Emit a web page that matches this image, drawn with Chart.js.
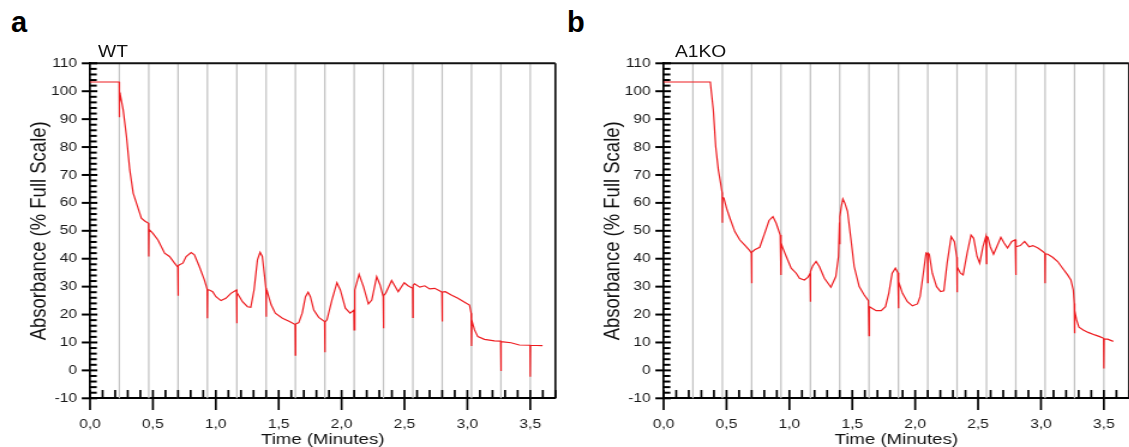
<!DOCTYPE html>
<html>
<head>
<meta charset="utf-8">
<script src="https://cdn.jsdelivr.net/npm/chart.js@4.4.1/dist/chart.umd.min.js"></script>
<style>
  html, body { margin: 0; padding: 0; background: #fff; overflow: hidden; width: 1129px; height: 447px; }
  #wrap { position: absolute; left: 0; top: 0; width: 950px; height: 447px; transform: scaleX(1.2); transform-origin: 0 0; }
  .box { position: absolute; top: 0; width: 470px; height: 447px; }
  .panel { position: absolute; top: 8px; font: bold 29px "Liberation Sans", Arial, sans-serif; line-height: 29px; color: #000; }
  .title { position: absolute; top: 43.8px; font: 16px "Liberation Sans", Arial, sans-serif; line-height: 16px; color: #111; }
</style>
</head>
<body>
<div class="panel" style="left:11px">a</div>
<div class="panel" style="left:567px">b</div>
<div id="wrap">
  <div class="box" style="left:0"><canvas id="wtChart" width="470" height="447" style="width:470px;height:447px"></canvas></div>
  <div class="box" style="left:477.75px"><canvas id="koChart" width="470" height="447" style="width:470px;height:447px"></canvas></div>
  <div class="title" style="left:81.7px">WT</div>
  <div class="title" style="left:562.5px">A1KO</div>
</div>
<script>
"use strict";
// injection markers, one every 14 s
const injectionTimes = [0.233, 0.467, 0.7, 0.933, 1.167, 1.4, 1.633, 1.867, 2.1, 2.333, 2.567, 2.8, 3.033, 3.267, 3.5];
const xTickValues = [0, 0.5, 1, 1.5, 2, 2.5, 3, 3.5];

const wtTime = [0, 0.232, 0.2335, 0.234, 0.242, 0.2635, 0.29, 0.316, 0.343, 0.369, 0.395, 0.408, 0.435, 0.465,
  0.467, 0.469, 0.5, 0.54, 0.593, 0.632, 0.672, 0.698, 0.7, 0.702, 0.711, 0.738, 0.764, 0.804, 0.83, 0.869,
  0.909, 0.931, 0.933, 0.935, 0.949, 0.975, 1.001, 1.041, 1.08, 1.12, 1.165, 1.167, 1.169, 1.18, 1.212, 1.252,
  1.278, 1.304, 1.331, 1.352, 1.37, 1.391, 1.398, 1.4, 1.402, 1.409, 1.42, 1.44, 1.473, 1.53, 1.586, 1.631,
  1.633, 1.635, 1.66, 1.687, 1.713, 1.734, 1.752, 1.779, 1.818, 1.865, 1.867, 1.869, 1.884, 1.923, 1.963, 1.99,
  2.03, 2.068, 2.098, 2.1, 2.102, 2.108, 2.139, 2.174, 2.213, 2.24, 2.279, 2.306, 2.331, 2.333, 2.335, 2.35,
  2.398, 2.45, 2.498, 2.528, 2.565, 2.567, 2.569, 2.58, 2.622, 2.661, 2.7, 2.74, 2.779, 2.798, 2.8, 2.802,
  2.825, 2.872, 2.925, 2.978, 3.017, 3.03, 3.033, 3.036, 3.057, 3.083, 3.136, 3.215, 3.265, 3.267, 3.269,
  3.347, 3.413, 3.498, 3.5, 3.502, 3.598];
const wtAbs = [103.3, 103.3, 90.7, 96, 98.4, 93.3, 83.8, 71.8, 63.5, 59.9, 56.3, 54.5, 53.5, 52.7,
  40.8, 50.5, 49.1, 46.7, 42.0, 40.8, 38.4, 37.0, 26.7, 37.5, 37.8, 38.4, 40.8, 42.2, 41.4, 37.2,
  32.4, 29.1, 18.7, 28.9, 28.8, 28.2, 26.4, 25.0, 25.8, 27.6, 28.8, 16.9, 27.8, 27.0, 24.6, 22.8,
  22.6, 28.8, 39.6, 42.3, 40.8, 32.4, 29.5, 19.2, 27.5, 28.3, 26.5, 23.5, 20.5, 18.7, 17.5, 16.4,
  5.5, 16.6, 17.1, 20.5, 26.4, 28.0, 26.4, 21.6, 19.0, 17.5, 6.5, 17.3, 18.1, 25.2, 31.4, 28.8,
  22.3, 20.5, 21.6, 14.5, 24, 28.8, 34.4, 30.0, 23.8, 25.2, 33.6, 30.6, 26.4, 15.1, 26.8, 27.6,
  32.2, 28.2, 31.4, 30.3, 29.4, 19.0, 30.5, 31.0, 29.8, 30.3, 29.2, 29.4, 28.5, 28.0, 17.5, 28.1,
  28.2, 27.0, 25.8, 24.4, 23.4, 20.5, 8.7, 17.8, 14.5, 12.1, 11.1, 10.6, 10.5, -0.2, 10.3,
  9.9, 9.1, 9.0, -2.3, 9.0, 8.9];

const koTime = [0, 0.371, 0.395, 0.414, 0.435, 0.453, 0.465, 0.467, 0.469, 0.479, 0.5, 0.527, 0.566, 0.606,
  0.645, 0.685, 0.698, 0.7, 0.702, 0.724, 0.764, 0.803, 0.838, 0.869, 0.895, 0.927, 0.933, 0.935, 0.948,
  0.975, 1.014, 1.054, 1.08, 1.119, 1.146, 1.165, 1.167, 1.169, 1.185, 1.212, 1.238, 1.278, 1.33, 1.369,
  1.39, 1.398, 1.4, 1.402, 1.412, 1.425, 1.44, 1.462, 1.49, 1.515, 1.555, 1.595, 1.628, 1.633, 1.636, 1.66,
  1.69, 1.73, 1.764, 1.79, 1.817, 1.843, 1.862, 1.867, 1.869, 1.899, 1.938, 1.978, 2.018, 2.039, 2.065,
  2.086, 2.098, 2.1, 2.102, 2.112, 2.136, 2.17, 2.202, 2.228, 2.254, 2.286, 2.312, 2.331, 2.333, 2.335,
  2.36, 2.381, 2.413, 2.444, 2.465, 2.492, 2.513, 2.539, 2.562, 2.567, 2.569, 2.578, 2.597, 2.623, 2.649,
  2.681, 2.707, 2.734, 2.768, 2.796, 2.8, 2.802, 2.836, 2.87, 2.905, 2.936, 2.976, 3.015, 3.031, 3.033,
  3.035, 3.054, 3.093, 3.133, 3.172, 3.212, 3.238, 3.257, 3.265, 3.267, 3.269, 3.283, 3.302, 3.336, 3.375,
  3.428, 3.467, 3.498, 3.5, 3.502, 3.53, 3.575];
const koAbs = [103.3, 103.3, 93.3, 80.2, 71.8, 67.1, 63.7, 52.9, 62.0, 61.7, 58.1, 54.5, 49.7, 46.7,
  44.9, 42.9, 42.0, 31.2, 42.3, 43.2, 44.1, 49.1, 53.7, 55.1, 52.7, 48.5, 34.2, 45.5, 43.8,
  40.8, 36.6, 34.8, 33.0, 32.4, 33.3, 34.8, 24.6, 35.5, 37.4, 39.0, 37.2, 33.0, 29.8, 33.6,
  40.8, 53, 45.2, 55, 58.5, 61.4, 60.0, 57.0, 46.7, 37.2, 30.0, 27.0, 25.0, 12.4, 22.8, 22.2,
  21.4, 21.4, 22.8, 27.6, 34.8, 36.6, 35.0, 22.3, 31.8, 27.6, 24.6, 23.1, 23.8, 26.4, 34.8,
  42.0, 41.5, 31.4, 42.0, 41.6, 34.8, 30.0, 28.2, 28.5, 38.4, 47.9, 46.1, 40.5, 28.0, 37,
  34.8, 34.2, 42.0, 48.5, 47.3, 40.8, 38.4, 44.3, 47.9, 38.2, 48.0, 47.7, 44.3, 41.6, 44.3,
  47.7, 45.6, 43.8, 46.2, 46.8, 34.2, 44.3, 44.7, 46.2, 44.3, 44.7, 43.8, 42.6, 42.0, 31.2,
  41.8, 41.6, 40.5, 39.0, 36.6, 34.2, 32.4, 28.8, 24.0, 13.3, 21.4, 18.1, 15.5, 14.5, 13.6,
  12.7, 12.1, 11.5, 0.7, 11.2, 11.2, 10.4];

const FONT = '"Liberation Sans", Arial, sans-serif';
Chart.defaults.font.family = FONT;

// gray injection lines, top/right frame, inner and minor ticks
const framePlugin = {
  id: "frame",
  beforeDatasetsDraw(chart) {
    const ctx = chart.ctx;
    const a = chart.chartArea;
    const x = chart.scales.x;
    ctx.save();
    ctx.strokeStyle = "#c2c2c2";
    ctx.lineWidth = 1.25;
    injectionTimes.forEach((t) => {
      const px = x.getPixelForValue(t);
      ctx.beginPath();
      ctx.moveTo(px, a.top);
      ctx.lineTo(px, a.bottom);
      ctx.stroke();
    });
    ctx.restore();
  },
  afterDraw(chart) {
    const ctx = chart.ctx;
    const a = chart.chartArea;
    const x = chart.scales.x;
    const y = chart.scales.y;
    ctx.save();
    ctx.strokeStyle = "#111";
    ctx.lineWidth = 2;
    ctx.beginPath();
    ctx.moveTo(a.left, a.top);
    ctx.lineTo(a.right, a.top);
    ctx.stroke();
    ctx.lineWidth = 1.7;
    ctx.beginPath();
    ctx.moveTo(a.right, a.top);
    ctx.lineTo(a.right, a.bottom);
    ctx.stroke();

    ctx.strokeStyle = "#000";
    ctx.lineWidth = 2;
    for (let v = -10; v <= 110; v += 2) {
      const py = y.getPixelForValue(v);
      ctx.beginPath();
      if (v % 10 === 0) {
        ctx.moveTo(a.left - 6.9, py);
        ctx.lineTo(a.left + 6.1, py);
      } else {
        ctx.moveTo(a.left, py);
        ctx.lineTo(a.left + 5.6, py);
      }
      ctx.stroke();
    }
    ctx.lineWidth = 1.7;
    for (let k = 0; k <= 37; k++) {
      const px = x.getPixelForValue(k / 10);
      ctx.beginPath();
      ctx.moveTo(px, a.bottom - 8.3);
      ctx.lineTo(px, k % 5 === 0 ? a.bottom + 11.7 : a.bottom);
      ctx.stroke();
    }
    ctx.restore();
  },
};

function makeChart(id, times, values) {
  const points = times.map((t, i) => ({ x: t, y: values[i] }));
  return new Chart(document.getElementById(id), {
    type: "line",
    data: {
      datasets: [{
        data: points,
        borderColor: "rgb(238, 28, 32)",
        borderWidth: 1.2,
        pointRadius: 0,
        tension: 0,
        fill: false,
      }],
    },
    options: {
      responsive: false,
      animation: false,
      events: [],
      layout: { padding: { top: 63.3, right: 5.8, left: 0, bottom: 0 } },
      plugins: { legend: { display: false }, tooltip: { enabled: false } },
      scales: {
        x: {
          type: "linear",
          min: 0,
          max: 3.7,
          afterBuildTicks: (s) => { s.ticks = xTickValues.map((v) => ({ value: v })); },
          afterFit: (s) => { s.height = 48.7; },
          grid: { display: false, drawTicks: false },
          border: { display: true, color: "#000", width: 2 },
          ticks: {
            padding: 18.8,
            autoSkip: false,
            maxRotation: 0,
            color: "#1a1a1a",
            font: { size: 13 },
            callback: (v) => Number(v).toFixed(1).replace(".", ","),
          },
          title: {
            display: true,
            text: "Time (Minutes)",
            color: "#111",
            font: { size: 15.5, lineHeight: 1 },
            padding: { top: 0, bottom: 0 },
          },
        },
        y: {
          min: -10,
          max: 110,
          afterFit: (s) => { s.width = 75; },
          grid: { display: false, drawTicks: false },
          border: { display: true, color: "#000", width: 1.7 },
          ticks: { stepSize: 10, padding: 10.8, color: "#1a1a1a", font: { size: 13 } },
          title: {
            display: true,
            text: "Absorbance (% Full Scale)",
            color: "#111",
            font: { size: 18.5, lineHeight: 1 },
            padding: { top: 24, bottom: 0 },
          },
        },
      },
    },
    plugins: [framePlugin],
  });
}

makeChart("wtChart", wtTime, wtAbs);
makeChart("koChart", koTime, koAbs);
</script>
</body>
</html>
